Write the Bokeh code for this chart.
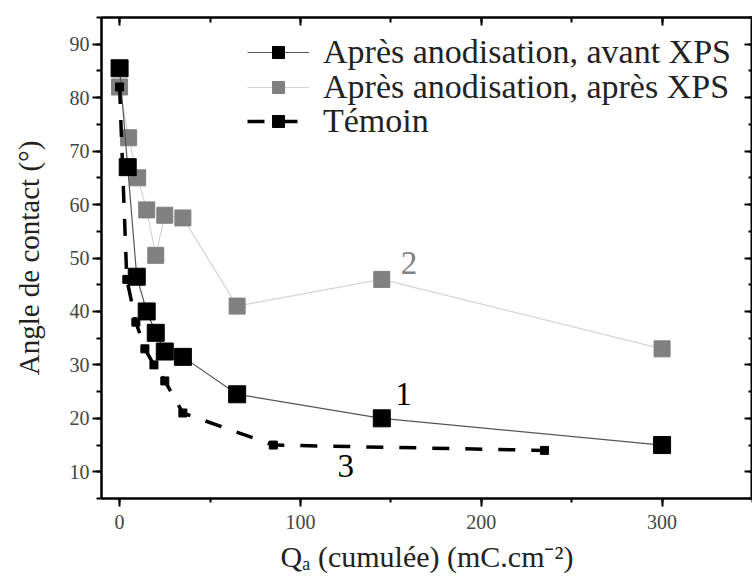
from bokeh.plotting import figure
from bokeh.models import (Legend, LegendItem, LinearAxis, SingleIntervalTicker,
                          Range1d, Label)
from bokeh.embed import file_html
from bokeh.resources import INLINE

# --- data ---
q_avant = [0, 4.5, 9.5, 15, 20, 25, 35, 65, 145, 300]
angle_avant = [85.5, 67, 46.5, 40, 36, 32.5, 31.5, 24.5, 20, 15]
q_apres = [0, 5, 10, 15, 20, 25, 35, 65, 145, 300]
angle_apres = [82, 72.5, 65, 59, 50.5, 58, 57.5, 41, 46, 33]
q_temoin = [0, 4, 9, 14, 19, 25, 35, 85, 235]
angle_temoin = [82, 46, 38, 33, 30, 27, 21, 15, 14]

series_names = ["Après anodisation, avant XPS", "Après anodisation, après XPS", "Témoin"]
curve_labels = ["1", "2", "3"]
curve_label_x = [157, 160, 125]
curve_label_y = [24.5, 49, 11]
x_ticks = [0, 100, 200, 300]
y_ticks = [10, 20, 30, 40, 50, 60, 70, 80, 90]

FONT = "Liberation Serif"

p = figure(frame_width=651, frame_height=481,
           x_range=Range1d(-10, 350), y_range=Range1d(5, 95),
           output_backend="svg", toolbar_location=None,
           min_border_left=101, min_border_top=17, min_border_right=0,
           min_border_bottom=60, x_axis_location=None, y_axis_location=None)
p.grid.visible = False
p.outline_line_color = "black"
p.outline_line_width = 2
p.background_fill_color = "white"
p.border_fill_color = "white"

def make_axis(ticker, labels=True, ticks=None):
    ax = LinearAxis(ticker=ticker)
    ax.axis_line_color = "black"
    ax.axis_line_width = 2
    ax.major_tick_line_width = 2
    ax.minor_tick_line_width = 2
    ax.major_tick_line_color = "black"
    ax.minor_tick_line_color = "black"
    if labels:
        ax.major_label_text_font = FONT
        ax.major_label_text_font_size = "20px"
        ax.major_label_text_color = "#444444"
        ax.axis_label_text_font = FONT
        ax.axis_label_text_font_size = "29px"
        ax.axis_label_text_font_style = "normal"
        ax.axis_label_text_color = "#222222"
    else:
        ax.major_label_overrides = {t: "" for t in ticks}
        ax.major_label_standoff = 0
    return ax

xt = lambda: SingleIntervalTicker(interval=100, num_minor_ticks=2)
yt = lambda: SingleIntervalTicker(interval=10, num_minor_ticks=2)

xb = make_axis(xt())
xb.major_tick_out = 8; xb.major_tick_in = 0
xb.minor_tick_out = 4; xb.minor_tick_in = 0
xb.major_label_standoff = 8
xb.axis_label = "Qₐ (cumulée) (mC.cm⁻²)"
xb.axis_label_text_font_size = "30px"
xb.axis_label_standoff = 8
p.add_layout(xb, "below")

yl = make_axis(yt())
yl.major_tick_out = 9; yl.major_tick_in = 0
yl.minor_tick_out = 5; yl.minor_tick_in = 0
yl.major_label_standoff = 3
yl.axis_label = "Angle de contact (°)"
yl.axis_label_standoff = 22
p.add_layout(yl, "left")

xtop = make_axis(xt(), labels=False, ticks=x_ticks)
xtop.major_tick_in = 8; xtop.major_tick_out = 0
xtop.minor_tick_in = 5; xtop.minor_tick_out = 0
p.add_layout(xtop, "above")

yr = make_axis(yt(), labels=False, ticks=y_ticks)
yr.major_tick_in = 8; yr.major_tick_out = 0
yr.minor_tick_in = 4; yr.minor_tick_out = 0
p.add_layout(yr, "right")

# grey series first (drawn underneath)
l2 = p.line(q_apres, angle_apres, line_color="#d4d4d4", line_width=1.2)
s2 = p.scatter(q_apres, angle_apres, marker="square", size=16,
               fill_color="#808080", line_color="#808080")
l1 = p.line(q_avant, angle_avant, line_color="#555555", line_width=1.2)
s1 = p.scatter(q_avant, angle_avant, marker="square", size=17,
               fill_color="black", line_color="black")
l3 = p.line(q_temoin, angle_temoin, line_color="black", line_width=3.5,
            line_dash="17 16")
s3 = p.scatter(q_temoin, angle_temoin, marker="square", size=8,
               fill_color="black", line_color="black")

# one single-row legend per series, so that the rows sit as close as in the reference
legend_rows = [[l1, s1], [l2, s2], [l3, s3]]
legend_bottoms = [427, 392, 358]   # screen px above the frame's bottom edge
for name, rends, yb in zip(series_names, legend_rows, legend_bottoms):
    lg = Legend(items=[LegendItem(label=name, renderers=rends)], location=(146, yb))
    lg.border_line_color = None
    lg.background_fill_alpha = 0
    lg.label_text_font = FONT
    lg.label_text_font_size = "34px"
    lg.label_text_color = "#222222"
    lg.glyph_width = 62
    lg.glyph_height = 30
    lg.label_standoff = 14
    lg.padding = 0
    lg.margin = 0
    p.add_layout(lg)

label_colors = ["black", "#808080", "black"]
for t, x, y, c in zip(curve_labels, curve_label_x, curve_label_y, label_colors):
    p.add_layout(Label(x=x, y=y, text=t, text_font=FONT, text_font_size="33px",
                       text_color=c, text_align="center", text_baseline="middle"))

open("out.html", "w").write(file_html(p, INLINE))
